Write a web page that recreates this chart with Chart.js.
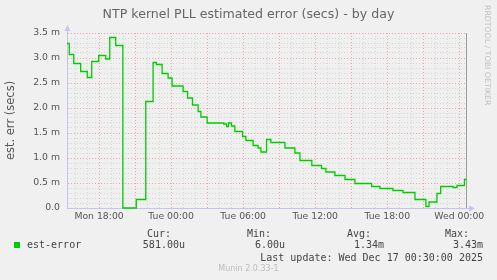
<!DOCTYPE html>
<html><head><meta charset="utf-8">
<script src="https://cdn.jsdelivr.net/npm/chart.js@4"></script>
<style>
html,body{margin:0;padding:0;background:#f0f0f0;}
#wrap{position:relative;width:497px;height:280px;overflow:hidden;background:#f0f0f0;}
canvas{position:absolute;left:0;top:0;}
.t{position:absolute;white-space:nowrap;color:#555;line-height:12px;}
.sans{font-family:"DejaVu Sans",sans-serif;}
.mono{font-family:"DejaVu Sans Mono",monospace;font-size:10px;color:#444;}
</style></head><body>
<div id="wrap">
<canvas id="c" width="497" height="280"></canvas>
<div class="t sans" style="left:0;width:497px;text-align:center;top:7px;font-size:12.6px;line-height:14px;color:#666;">NTP kernel PLL estimated error (secs) - by day</div>
<div class="t sans" style="left:482px;top:5px;font-size:7.8px;color:#c0c0c0;writing-mode:vertical-rl;line-height:10px;">RRDTOOL / TOBI OETIKER</div>
<div style="position:absolute;left:14px;top:242px;width:6px;height:6px;background:#00cc00;"></div>
<div class="t mono" style="left:27px;top:239px;">est-error</div>
<div class="t mono" style="right:326px;top:227.5px;">Cur:</div>
<div class="t mono" style="right:226px;top:227.5px;">Min:</div>
<div class="t mono" style="right:126px;top:227.5px;">Avg:</div>
<div class="t mono" style="right:28px;top:227.5px;">Max:</div>
<div class="t mono" style="right:312px;top:239px;">581.00u</div>
<div class="t mono" style="right:212px;top:239px;">6.00u</div>
<div class="t mono" style="right:113px;top:239px;">1.34m</div>
<div class="t mono" style="right:14px;top:239px;">3.43m</div>
<div class="t mono" style="right:14px;top:251.5px;">Last update: Wed Dec 17 00:30:00 2025</div>
<div class="t sans" style="left:0;width:497px;text-align:center;top:263px;font-size:8px;color:#bbb;">Munin 2.0.33-1</div>
</div>
<script>
// time in hours since Mon 00:00
const hours = [15.33,15.52,15.89,16.47,17.02,17.39,17.97,18.56,18.89,19.39,
  19.98,21.1,21.89,22.5,22.78,23.25,23.75,24.08,25.0,25.37,
  25.78,26.25,26.48,27.0,28.39,28.62,28.78,29.03,29.31,29.95,
  30.23,30.83,31.25,31.48,31.95,32.31,33.48,34.31,34.73,35.72,
  36.53,36.89,37.64,38.48,39.31,40.7,41.39,42.48,43.31,44.31,
  45.22,45.48,46.14,46.45,47.48,47.81,48.43,48.56];
// est-error in milliseconds
const estError = [3.29,3.07,2.89,2.73,2.61,2.93,3.05,2.98,3.41,3.25,
  0.0,0.17,2.13,2.91,2.87,2.69,2.60,2.44,2.33,2.20,
  2.06,1.93,1.82,1.70,1.68,1.63,1.70,1.64,1.53,1.43,
  1.35,1.25,1.20,1.12,1.37,1.31,1.20,1.10,0.95,0.85,
  0.79,0.72,0.65,0.57,0.49,0.43,0.39,0.35,0.31,0.17,
  0.03,0.12,0.29,0.43,0.41,0.45,0.57,0.58];
const xTickHours = [18,24,30,36,42,48];
const xTickLabels = ["Mon 18:00","Tue 00:00","Tue 06:00","Tue 12:00","Tue 18:00","Wed 00:00"];
const yTickValues = [0,0.5,1.0,1.5,2.0,2.5,3.0,3.5];
const yTickLabels = ["0.0","0.5 m","1.0 m","1.5 m","2.0 m","2.5 m","3.0 m","3.5 m"];

const X_MIN = 15.33, X_MAX = 48.56;
const MAJOR = 'rgba(228,120,120,0.6)';
const MINOR = 'rgba(185,185,185,0.45)';
const AXIS = '#c4c4ee';

const arrows = {
  id: 'arrows',
  afterDraw(chart) {
    const {ctx, chartArea: a} = chart;
    ctx.save();
    ctx.strokeStyle = AXIS; ctx.fillStyle = AXIS; ctx.lineWidth = 1;
    ctx.beginPath(); ctx.moveTo(a.left + 0.5, a.top); ctx.lineTo(a.left + 0.5, a.top - 4); ctx.stroke();
    ctx.beginPath(); ctx.moveTo(a.right, a.bottom + 0.5); ctx.lineTo(a.right + 4, a.bottom + 0.5); ctx.stroke();
    ctx.beginPath(); ctx.moveTo(a.left - 2.5, a.top - 2); ctx.lineTo(a.left + 3.5, a.top - 2); ctx.lineTo(a.left + 0.5, a.top - 8); ctx.closePath(); ctx.fill();
    ctx.beginPath(); ctx.moveTo(a.right + 3, a.bottom - 2.5); ctx.lineTo(a.right + 3, a.bottom + 3.5); ctx.lineTo(a.right + 9, a.bottom + 0.5); ctx.closePath(); ctx.fill();
    ctx.restore();
  }
};

const hourTicks = [];
for (let h = Math.ceil(X_MIN); h <= Math.floor(X_MAX); h++) hourTicks.push(h);
const yTicks = [];
for (let i = 0; i <= 35; i++) yTicks.push(i / 10);

new Chart(document.getElementById('c'), {
  type: 'line',
  data: {
    datasets: [{
      label: 'est-error',
      data: hours.map((h, i) => ({x: h, y: estError[i]})),
      borderColor: '#00cc00',
      borderWidth: 1.3,
      pointRadius: 0,
      stepped: true,
      fill: false,
      clip: 3
    }]
  },
  options: {
    responsive: false,
    animation: false,
    events: [],
    layout: {padding: {left: 0, top: 33, right: 31, bottom: 52}},
    plugins: {legend: {display: false}, tooltip: {enabled: false}, title: {display: false}},
    scales: {
      x: {
        type: 'linear', min: X_MIN, max: X_MAX,
        afterFit: s => { s.height = 20; },
        afterBuildTicks: s => { s.ticks = hourTicks.map(v => ({value: v})); },
        ticks: {
          autoSkip: false, maxRotation: 0, padding: 3,
          color: '#555', font: {family: 'DejaVu Sans', size: 9.3},
          callback: v => { const k = xTickHours.indexOf(v); return k >= 0 ? xTickLabels[k] : ''; }
        },
        grid: {
          drawTicks: false,
          lineWidth: 1,
          color: c => (c.tick && c.tick.value % 3 === 0) ? MAJOR : MINOR
        },
        border: {display: true, color: AXIS, width: 1, dash: [1, 2]}
      },
      y: {
        type: 'linear', min: 0, max: 3.5,
        afterFit: s => { s.width = 67; },
        afterBuildTicks: s => { s.ticks = yTicks.map(v => ({value: v})); },
        title: {display: true, text: 'est. err (secs)', color: '#555', font: {family: 'DejaVu Sans', size: 11.5}, padding: {top: 4, bottom: 4}},
        ticks: {
          autoSkip: false, padding: 7,
          color: '#555', font: {family: 'DejaVu Sans', size: 9.3},
          callback: v => { const k = yTickValues.findIndex(t => Math.abs(t - v) < 1e-6); return k >= 0 ? yTickLabels[k] : ''; }
        },
        grid: {
          drawTicks: false,
          lineWidth: 1,
          color: c => (c.tick && Math.round(c.tick.value * 10) % 5 === 0) ? MAJOR : MINOR
        },
        border: {display: true, color: AXIS, width: 1, dash: [1, 2]}
      },
      y2: {
        type: 'linear', position: 'right', min: 0, max: 3.5,
        afterFit: s => { s.width = 0; },
        ticks: {display: false},
        grid: {display: false, drawTicks: false},
        border: {display: true, color: '#9a9a9a', width: 1}
      }
    }
  },
  plugins: [arrows]
});
</script>
</body></html>
